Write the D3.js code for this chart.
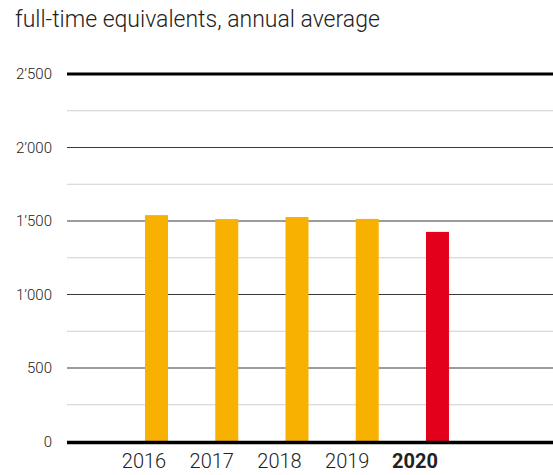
<!DOCTYPE html>
<html><head><meta charset="utf-8">
<script src="https://cdn.jsdelivr.net/npm/d3@7"></script>
<style>body{margin:0;background:#fff}svg{display:block}</style>
</head><body>
<script>
const years = ["2016","2017","2018","2019","2020"];
const values = [1540, 1513, 1527, 1514, 1426];
const barColors = ["#f8b100","#f8b100","#f8b100","#f8b100","#e2001a"];
const majorTicks = [0, 500, 1000, 1500, 2000, 2500];
const tickLabels = ["0","500","1\u2019000","1\u2019500","2\u2019000","2\u2019500"];
const minorTicks = [250, 750, 1250, 1750, 2250];
const title = "full-time equivalents, annual average";

const W = 553, H = 475;
const svg = d3.select("body").append("svg").attr("width", W).attr("height", H);
const font = "Roboto, 'Liberation Sans', Arial, sans-serif";

const y = d3.scaleLinear().domain([0, 2500]).range([441.5, 74]);
const x = d3.scaleBand().domain(years).range([121.4, 472.6]).paddingInner(0.673).paddingOuter(0.3365);
const xl = d3.scalePoint().domain(years).range([144, 415]);
const x0 = 67, x1 = 553;

svg.append("text").attr("x", 15).attr("y", 27).attr("font-family", font)
  .attr("font-size", 23).attr("font-weight", 300).attr("fill", "#222").text(title);

svg.selectAll("line.minor").data(minorTicks).join("line").attr("class","minor")
  .attr("x1", x0).attr("x2", x1).attr("y1", d => y(d)).attr("y2", d => y(d))
  .attr("stroke", "#cfcfcf").attr("stroke-width", 1.2);

svg.selectAll("line.major").data(majorTicks.filter(d => d > 0 && d < 2500)).join("line").attr("class","major")
  .attr("x1", x0).attr("x2", x1).attr("y1", d => y(d)).attr("y2", d => y(d))
  .attr("stroke", "#3a3a3a").attr("stroke-width", 1.2);

svg.append("line").attr("x1", x0).attr("x2", x1).attr("y1", y(2500)).attr("y2", y(2500))
  .attr("stroke", "#000").attr("stroke-width", 3);

svg.selectAll("rect.bar").data(years).join("rect").attr("class","bar")
  .attr("x", d => x(d)).attr("width", x.bandwidth())
  .attr("y", (d,i) => y(values[i])).attr("height", (d,i) => y(0) - y(values[i]))
  .attr("fill", (d,i) => barColors[i]);

svg.append("line").attr("x1", x0).attr("x2", x1).attr("y1", y(0) + 1).attr("y2", y(0) + 1)
  .attr("stroke", "#000").attr("stroke-width", 3.5);

svg.selectAll("text.ytick").data(majorTicks).join("text").attr("class","ytick")
  .attr("x", 52).attr("y", d => y(d) + 5).attr("text-anchor", "end")
  .attr("font-family", font).attr("font-size", 15).attr("font-weight", 300).attr("fill", "#222")
  .text((d,i) => tickLabels[i]);

svg.selectAll("text.xtick").data(years).join("text").attr("class","xtick")
  .attr("x", d => xl(d)).attr("y", 468).attr("text-anchor", "middle")
  .attr("font-family", font).attr("font-size", 20)
  .attr("font-weight", (d,i) => i === years.length - 1 ? "bold" : 300).attr("fill", "#222")
  .text(d => d);
</script>
</body></html>
